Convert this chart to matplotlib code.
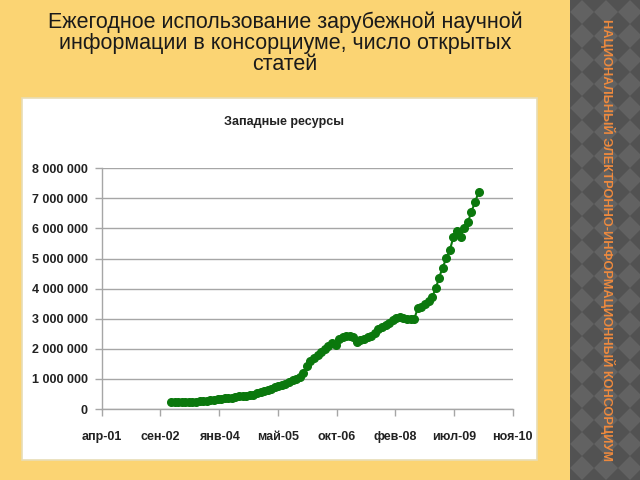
import numpy as np
import pandas as pd
import matplotlib
matplotlib.use('Agg')
from matplotlib import pyplot as plt
from matplotlib.patches import Rectangle, Polygon
import matplotlib.dates as mdates

plt.rcParams['font.family'] = ['Liberation Sans', 'DejaVu Sans']

title = ('Ежегодное использование зарубежной научной\n'
         'информации в консорциуме, число открытых\n'
         'статей')
chart_title = 'Западные ресурсы'
side_text = 'НАЦИОНАЛЬНЫЙ ЭЛЕКТРОННО-ИНФОРМАЦИОННЫЙ КОНСОРЦИУМ'

# monthly points, Dec 2002 .. Feb 2010
months = pd.date_range('2002-12-01', periods=87, freq='MS')
usage = np.array([
    0.22, 0.22, 0.22, 0.22, 0.22, 0.22, 0.23, 0.23,
    0.25, 0.26, 0.27, 0.29, 0.30, 0.32,
    0.33, 0.35, 0.37, 0.38, 0.40,
    0.42, 0.43, 0.44, 0.46, 0.48,
    0.52, 0.56, 0.60, 0.64,
    0.68, 0.72, 0.76, 0.80,
    0.84, 0.89, 0.95, 1.00,
    1.08, 1.20, 1.42,
    1.58, 1.70, 1.80, 1.90,
    1.98, 2.10, 2.18, 2.12,
    2.32, 2.38, 2.42, 2.42, 2.38,
    2.24, 2.28, 2.33, 2.38,
    2.44, 2.52, 2.65, 2.73,
    2.78, 2.86, 2.95, 3.02,
    3.05, 3.02, 3.00, 3.00, 2.99,
    3.35, 3.40, 3.50, 3.60, 3.72, 4.01, 4.37, 4.70, 5.01, 5.29,
    5.71, 5.92, 5.73, 6.03, 6.20, 6.56, 6.87, 7.22]) * 1e6

x_labels = ['апр-01', 'сен-02', 'янв-04', 'май-05', 'окт-06', 'фев-08', 'июл-09', 'ноя-10']
y_ticks = [0, 1e6, 2e6, 3e6, 4e6, 5e6, 6e6, 7e6, 8e6]
y_labels = ['0', '1 000 000', '2 000 000', '3 000 000', '4 000 000',
            '5 000 000', '6 000 000', '7 000 000', '8 000 000']

W, H = 640, 480
fig = plt.figure(figsize=(6.4, 4.8), dpi=100)
fig.patch.set_facecolor('#FBD473')

# dark side strip with checkered diamond pattern
fig.patches.append(Rectangle((570 / W, 0), 70 / W, 1, transform=fig.transFigure,
                             facecolor='#626262', edgecolor='none', zorder=0))
step = 24
for row in range(-1, H // step + 2):
    for col in range(-1, 5):
        cx = 570 + col * step
        cy = row * step
        pts = [(cx, cy + step / 2), (cx + step / 2, cy),
               (cx, cy - step / 2), (cx - step / 2, cy)]
        pts = [(max(p[0], 570) / W, p[1] / H) for p in pts]
        fig.patches.append(Polygon(pts, closed=True, transform=fig.transFigure,
                                   facecolor='#525252', edgecolor='none', zorder=0))
fig.text(608 / W, 240 / H, side_text, rotation=-90, ha='center', va='center',
         color='#EE8A3E', fontsize=9.2, fontweight='bold')

fig.text(285 / W, 1 - 43 / H, title, ha='center', va='center', fontsize=15.5,
         color='#1a1a1a', linespacing=1.0)

# white chart panel
fig.patches.append(Rectangle((22 / W, 1 - 460 / H), 515 / W, 362 / H,
                             transform=fig.transFigure, facecolor='white',
                             edgecolor='#E8DDB5', linewidth=1.2, zorder=1))
fig.text(284 / W, 1 - 122 / H, chart_title, ha='center', va='center',
         fontsize=9, fontweight='bold', color='#222222', zorder=2)

ax = fig.add_axes([101.7 / W, 1 - 409 / H, 411 / W, 240.7 / H], zorder=3)
ax.set_facecolor('none')

xmin = pd.Timestamp('2001-04-19')
tick_dates = [xmin + pd.Timedelta(days=500 * i) for i in range(len(x_labels))]
xt = mdates.date2num(tick_dates)

ax.plot(mdates.date2num(months), usage, color='#0B780D', marker='o',
        markersize=5.5, linewidth=1.5, zorder=3)

ax.set_xlim(xt[0], xt[-1])
ax.set_ylim(0, 8e6)
ax.set_xticks(xt)
ax.set_xticklabels(x_labels)
ax.set_yticks(y_ticks)
ax.set_yticklabels(y_labels)
ax.grid(axis='y', color='#A6A6A6', linewidth=1)
ax.set_axisbelow(True)
for s in ['top', 'right']:
    ax.spines[s].set_visible(False)
for s in ['left', 'bottom']:
    ax.spines[s].set_color('#A6A6A6')
    ax.spines[s].set_linewidth(1)
ax.tick_params(axis='both', colors='#A6A6A6', labelcolor='#222222', length=5,
               width=1, labelsize=9)
ax.tick_params(axis='x', pad=11)
ax.tick_params(axis='y', pad=5)
for lab in ax.get_xticklabels() + ax.get_yticklabels():
    lab.set_fontweight('bold')

fig.savefig('out.png', dpi=100, facecolor=fig.get_facecolor())
